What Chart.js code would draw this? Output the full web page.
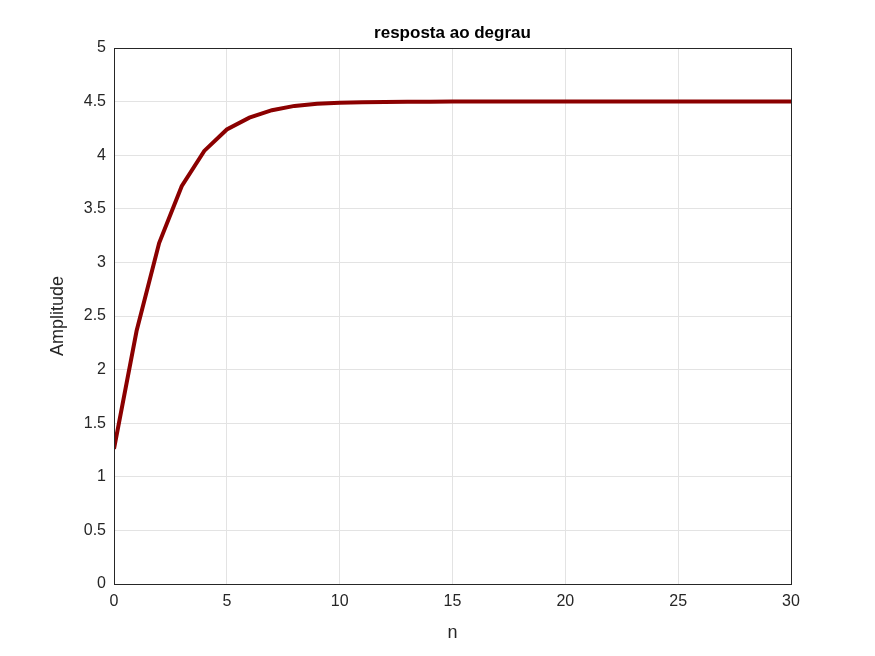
<!DOCTYPE html>
<html><head><meta charset="utf-8">
<script src="https://cdn.jsdelivr.net/npm/chart.js"></script>
<style>html,body{margin:0;padding:0;background:#fff}#w{width:875px;height:656px}</style>
</head><body><div id="w"><canvas id="c"></canvas></div>
<script>
const nValues = [0,1,2,3,4,5,6,7,8,9,10,11,12,13,14,15,16,17,18,19,20,21,22,23,24,25,26,27,28,29,30];
const amplitude = [1.26,2.36,3.18,3.71,4.04,4.24,4.35,4.42,4.46,4.48,4.49,4.495,4.497,4.498,4.499,4.5,4.5,4.5,4.5,4.5,4.5,4.5,4.5,4.5,4.5,4.5,4.5,4.5,4.5,4.5,4.5];
const xTicks = [0,5,10,15,20,25,30];
const titleText = 'resposta ao degrau', xLabel = 'n', yLabel = 'Amplitude';
const font = "Arial, 'Liberation Sans', sans-serif";
const boxPlugin = {id:'box', afterDraw(ch){const a=ch.chartArea,c=ch.ctx;c.save();
 c.strokeStyle='#262626';c.lineWidth=1;c.strokeRect(a.left+0.5,a.top+0.5,a.right-a.left,a.bottom-a.top);
 const cx=(a.left+a.right)/2;
 c.fillStyle='#000';c.font='bold 17px '+font;c.textAlign='center';c.textBaseline='middle';c.fillText(titleText,cx,33);
 c.fillStyle='#262626';c.font='18px '+font;c.fillText(xLabel,cx,633);
 c.translate(58,(a.top+a.bottom)/2);c.rotate(-Math.PI/2);c.fillText(yLabel,0,0);
 c.restore();}};
new Chart(document.getElementById('c'),{
 type:'line',
 data:{datasets:[{data:nValues.map((n,i)=>({x:n,y:amplitude[i]})),borderColor:'#8b0000',borderWidth:4,pointRadius:0,tension:0,fill:false}]},
 options:{responsive:true,maintainAspectRatio:false,animation:false,
  layout:{padding:{left:0,right:84,top:48,bottom:0}},
  plugins:{legend:{display:false},tooltip:{enabled:false}},
  scales:{
   x:{type:'linear',min:0,max:30,afterBuildTicks(s){s.ticks=xTicks.map(v=>({value:v}));},
    afterFit(s){s.height=72;},
    grid:{color:'#e3e3e3',drawTicks:false},border:{color:'#262626'},
    ticks:{color:'#262626',font:{family:font,size:16},padding:8,maxRotation:0,callback:v=>String(v)}},
   y:{min:0,max:5,afterFit(s){s.width=114;},
    grid:{color:'#e3e3e3',drawTicks:false},border:{color:'#262626'},
    ticks:{stepSize:0.5,color:'#262626',font:{family:font,size:16},padding:8,callback:v=>String(Math.round(v*10)/10)}}
  }},
 plugins:[boxPlugin]
});
</script></body></html>
